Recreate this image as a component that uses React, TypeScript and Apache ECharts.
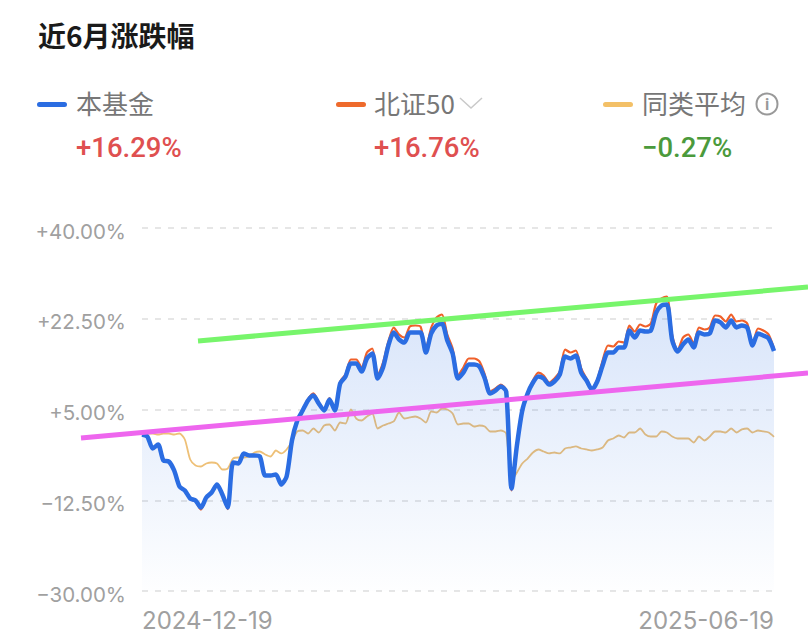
import React, { useEffect, useRef } from "react";
import * as echarts from "echarts";

const dates = [
  "2024-12-19","2024-12-20","2024-12-23","2024-12-24","2024-12-25","2024-12-26","2024-12-27","2024-12-30","2024-12-31",
  "2025-01-02","2025-01-03","2025-01-06","2025-01-07","2025-01-08","2025-01-09","2025-01-10","2025-01-13","2025-01-14","2025-01-15","2025-01-16","2025-01-17","2025-01-20","2025-01-21","2025-01-22","2025-01-23","2025-01-24","2025-01-27",
  "2025-02-05","2025-02-06","2025-02-07","2025-02-10","2025-02-11","2025-02-12","2025-02-13","2025-02-14","2025-02-17","2025-02-18","2025-02-19","2025-02-20","2025-02-21","2025-02-24","2025-02-25","2025-02-26","2025-02-27","2025-02-28",
  "2025-03-03","2025-03-04","2025-03-05","2025-03-06","2025-03-07","2025-03-10","2025-03-11","2025-03-12","2025-03-13","2025-03-14","2025-03-17","2025-03-18","2025-03-19","2025-03-20","2025-03-21","2025-03-24","2025-03-25","2025-03-26","2025-03-27","2025-03-28","2025-03-31",
  "2025-04-01","2025-04-02","2025-04-03","2025-04-07","2025-04-08","2025-04-09","2025-04-10","2025-04-11","2025-04-14","2025-04-15","2025-04-16","2025-04-17","2025-04-18","2025-04-21","2025-04-22","2025-04-23","2025-04-24","2025-04-25","2025-04-28","2025-04-29","2025-04-30",
  "2025-05-06","2025-05-07","2025-05-08","2025-05-09","2025-05-12","2025-05-13","2025-05-14","2025-05-15","2025-05-16","2025-05-19","2025-05-20","2025-05-21","2025-05-22","2025-05-23","2025-05-26","2025-05-27","2025-05-28","2025-05-29","2025-05-30",
  "2025-06-03","2025-06-04","2025-06-05","2025-06-06","2025-06-09","2025-06-10","2025-06-11","2025-06-12","2025-06-13","2025-06-16","2025-06-17","2025-06-18","2025-06-19",
];

const fund = [
  0.18,-0.21,-2.52,-1.75,-4.83,-5.03,-6.76,-9.85,-10.62,-12.16,
  -12.55,-13.9,-11.97,-11.0,-9.46,-11.39,-13.9,-5.22,-5.41,-3.48,
  -3.87,-3.87,-4.06,-7.73,-7.73,-7.53,-9.46,-7.92,-0.98,2.88,
  4.81,6.74,7.7,6.16,4.81,6.93,4.81,10.01,11.36,13.87,
  13.87,12.33,14.83,15.8,10.98,13.1,17.34,19.85,18.5,17.92,
  19.85,19.85,19.85,15.99,19.66,21.2,21.58,18.31,15.8,10.98,
  12.13,13.68,13.68,13.29,10.98,8.09,8.66,9.44,8.47,-10.23,
  -1.94,4.81,8.09,10.21,11.36,10.98,9.82,10.4,11.75,15.22,
  14.83,15.41,12.13,10.59,8.86,10.4,13.48,15.99,15.99,16.96,
  16.96,20.23,18.88,20.23,20.04,20.23,23.7,25.05,25.25,18.31,
  16.18,17.53,18.5,16.96,19.85,19.46,19.66,22.16,21.78,20.81,
  22.16,20.81,21.2,20.81,17.34,19.66,19.27,18.69,16.29,
];

const index50 = [
  0.18,-0.15,-2.45,-1.7,-4.9,-5.1,-6.85,-10.0,-10.75,-12.3,
  -12.75,-14.3,-12.1,-11.1,-9.5,-11.5,-14.2,-5.3,-5.5,-3.5,
  -3.9,-3.9,-4.1,-7.8,-7.8,-7.6,-9.6,-7.95,-0.9,3.0,
  5.0,7.0,8.1,6.4,5.0,7.2,5.19,10.4,11.75,14.64,
  14.64,13.1,15.99,16.76,11.56,14.06,18.11,20.81,19.46,18.88,
  21.01,21.2,21.01,16.76,20.81,22.74,23.32,19.46,16.76,11.56,
  13.1,14.83,14.83,14.26,11.75,8.47,9.05,9.82,8.66,-10.62,
  -2.13,4.81,8.28,10.59,12.13,11.56,10.21,10.98,12.33,16.57,
  15.99,16.38,12.91,10.98,9.05,10.78,14.45,17.34,17.15,18.11,
  17.92,21.2,20.04,21.39,21.01,21.58,25.44,26.4,26.79,19.27,
  16.38,18.88,19.46,17.73,20.81,20.43,20.81,23.13,22.93,21.97,
  23.32,21.97,22.16,21.58,17.53,20.62,20.23,19.46,16.76,
];

const peerAverage = [
  0.37,0.37,0.37,0.18,0.37,0.37,0.18,0.37,-0.78,-4.64,
  -5.8,-5.99,-5.41,-5.22,-5.41,-6.57,-6.38,-4.45,-4.26,-4.26,
  -4.06,-3.29,-3.1,-3.68,-4.06,-2.91,-3.48,-2.71,-1.17,0.76,
  0.95,0.37,1.34,0.56,1.91,2.11,0.95,2.49,2.3,5.0,
  3.26,2.88,3.65,4.23,1.34,1.91,2.3,2.69,4.42,3.26,
  3.46,3.65,3.26,2.49,4.61,4.42,5.19,5.0,4.23,2.11,
  2.3,2.3,1.72,1.91,1.72,0.76,0.76,0.95,0.37,-8.69,
  -7.15,-5.41,-4.45,-3.29,-2.71,-3.1,-3.48,-3.29,-3.48,-2.52,
  -2.33,-2.13,-2.52,-2.71,-2.91,-2.71,-2.33,-0.98,-0.59,-0.01,
  -0.4,0.56,0.56,1.34,0.18,-0.21,-0.21,0.76,0.56,-0.21,
  -0.59,-0.59,-0.59,-1.36,-0.21,-0.98,-0.21,0.76,0.76,0.56,
  1.34,0.56,1.15,1.34,0.56,0.95,0.76,0.56,-0.27,
];

const yTicks = [-30, -12.5, 5, 22.5, 40];
const seriesNames = ["本基金", "北证50", "同类平均"];
const seriesReturns = ["+16.29%", "+16.76%", "−0.27%"];
const titleText = "近6月涨跌幅";

const CJK = '"Noto Sans CJK SC", "Noto Sans", sans-serif';
const NUM = 'Roboto, "Noto Sans", sans-serif';

const label = (x: number, y: number, text: string, font: string, fill: string) => ({
  type: "text", x, y, z: 20,
  style: { text, font, fill, verticalAlign: "middle", align: "left" },
});
const swatch = (x: number, fill: string) => ({
  type: "rect", x, y: 102, z: 20,
  shape: { width: 30, height: 5, r: 2.5 },
  style: { fill },
});

export default function App() {
  const ref = useRef<HTMLDivElement>(null);
  useEffect(() => {
    document.body.style.margin = "0";
    const chart = echarts.init(ref.current!, undefined, { renderer: "svg" });
    chart.setOption({
      animation: false,
      backgroundColor: "#fff",
      grid: { left: 142, right: 34, top: 228, bottom: 49, containLabel: false },
      xAxis: {
        type: "category",
        data: dates,
        boundaryGap: false,
        axisLine: { show: false },
        axisTick: { show: false },
        splitLine: { show: false },
        axisLabel: {
          color: "#a0a0a0",
          fontFamily: "Inter, Roboto, sans-serif",
          fontSize: 24,
          margin: 17,
          showMinLabel: true,
          showMaxLabel: true,
          alignMinLabel: "left",
          alignMaxLabel: "right",
          interval: (i: number) => i === 0 || i === dates.length - 1,
        },
      },
      yAxis: {
        type: "value",
        min: -30,
        max: 40,
        axisLine: { show: false },
        axisTick: { show: false, customValues: yTicks },
        splitLine: { show: true, lineStyle: { color: "#e6e6e6", width: 2, type: [6, 7] } },
        axisLabel: {
          customValues: yTicks,
          color: "#a0a0a0",
          fontFamily: "Inter, Roboto, sans-serif",
          fontSize: 20.5,
          margin: 16,
          verticalAlign: "top",
          lineHeight: 6,
          formatter: (v: number) => (v > 0 ? "+" : "−") + Math.abs(v).toFixed(2) + "%",
        },
      },
      series: [
        {
          name: seriesNames[2],
          type: "line",
          data: peerAverage,
          showSymbol: false,
          smooth: 0.25,
          z: 2,
          lineStyle: { color: "#eec077", width: 1.8 },
        },
        {
          name: seriesNames[1],
          type: "line",
          data: index50,
          showSymbol: false,
          smooth: 0.25,
          z: 3,
          lineStyle: { color: "#f0602a", width: 2.2 },
        },
        {
          name: seriesNames[0],
          type: "line",
          data: fund,
          showSymbol: false,
          smooth: 0.25,
          z: 4,
          lineStyle: { color: "#2b6de2", width: 4.5 },
          areaStyle: {
            origin: "start",
            color: new echarts.graphic.LinearGradient(0, 0, 0, 1, [
              { offset: 0, color: "rgba(43,111,227,0.26)" },
              { offset: 1, color: "rgba(43,111,227,0.01)" },
            ]),
          },
        },
      ],
      graphic: [
        label(38, 35, titleText, `600 28px ${CJK}`, "#1a1a1a"),
        swatch(37, "#2b6de2"),
        label(76, 102, seriesNames[0], `26px ${CJK}`, "#777777"),
        label(76, 147, seriesReturns[0], `500 27.5px ${NUM}`, "#df5050"),
        swatch(336, "#ee6a2c"),
        label(374, 102, seriesNames[1], `26px ${CJK}`, "#777777"),
        label(374, 147, seriesReturns[1], `500 27.5px ${NUM}`, "#df5050"),
        {
          type: "polyline", z: 20,
          shape: { points: [[460, 98], [471, 108], [482, 98]] },
          style: { stroke: "#c9c9c9", lineWidth: 1.5, fill: "none" },
        },
        swatch(603, "#f3c067"),
        label(642, 102, seriesNames[2], `26px ${CJK}`, "#777777"),
        label(642, 147, seriesReturns[2], `500 27.5px ${NUM}`, "#4b9a3c"),
        {
          type: "circle", z: 20,
          shape: { cx: 767, cy: 104, r: 10.5 },
          style: { stroke: "#999999", lineWidth: 2, fill: "none" },
        },
        {
          type: "text", x: 767, y: 104, z: 21,
          style: { text: "i", font: `bold 16px ${NUM}`, fill: "#999999", align: "center", verticalAlign: "middle" },
        },
        {
          type: "line", z: 30,
          shape: { x1: 198, y1: 341, x2: 808, y2: 287 },
          style: { stroke: "#77f56b", lineWidth: 5 },
        },
        {
          type: "line", z: 30,
          shape: { x1: 81, y1: 438, x2: 808, y2: 373 },
          style: { stroke: "#ee66ee", lineWidth: 5 },
        },
      ],
    });
    return () => chart.dispose();
  }, []);
  return <div ref={ref} style={{ position: "absolute", left: 0, top: 0, width: 808, height: 640 }} />;
}
